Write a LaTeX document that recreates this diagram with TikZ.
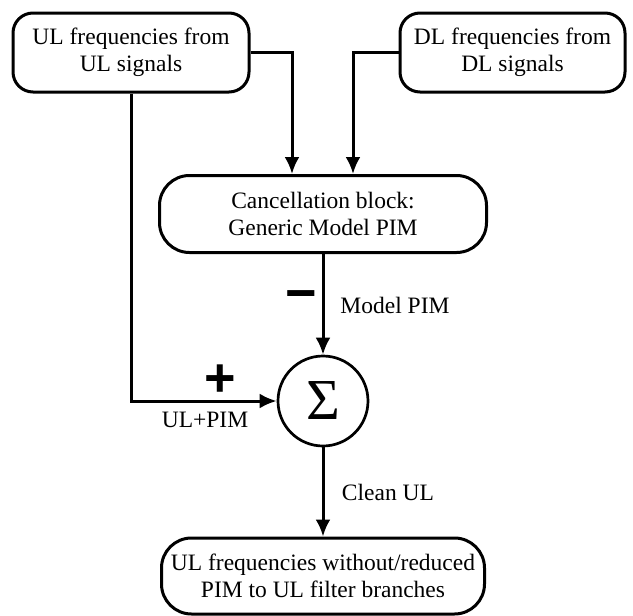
\documentclass[tikz,border=0pt]{standalone}
\usepackage{fontspec}
\setmainfont{Liberation Serif}
\setsansfont{Liberation Sans}
\usetikzlibrary{arrows.meta}
\tikzset{>={Latex[length=17pt,width=15pt]}}
\tikzset{
  block/.style={draw=black, line width=3pt, align=center, inner sep=0pt,
    font=\fontsize{23.5}{27.5}\selectfont},
  sumnode/.style={draw=black, circle, line width=2.7pt, minimum size=90pt,
    inner sep=0pt, font=\fontsize{58}{58}\selectfont},
  lbl/.style={font=\fontsize{23.5}{27.5}\selectfont},
  sgn/.style={font=\fontsize{54}{54}\sffamily\bfseries\selectfont}
}

\begin{document}
\begin{tikzpicture}[x=1pt, y=-1pt, line width=3pt]
          \useasboundingbox (0,0) rectangle (633,616);

          \node[block, rounded corners=20pt, minimum width=236pt, minimum height=79pt] (ulf) at (131,52.5) {UL frequencies from\\UL signals};
          \node[block, rounded corners=20pt, minimum width=225pt, minimum height=79pt] (dlf) at (512.5,52.5) {DL frequencies from\\DL signals};
          \node[block, rounded corners=30pt, minimum width=327pt, minimum height=77pt] (canc) at (323,214) {Cancellation block:\\Generic Model PIM};
          \node[sumnode] (sum) at (323,401) {Σ};
          \node[block, rounded corners=30pt, minimum width=323pt, minimum height=76pt] (out) at (323,576) {UL frequencies without/reduced\\PIM to UL filter branches};

          \draw[->] (ulf.east) -| ([xshift=-31pt]canc.north);
          \draw[->] (dlf.west) -| ([xshift=30pt]canc.north);
          \draw[->] (ulf.south) |- (sum.west);
          \path[draw=black,->] (canc) edge (sum);
          \path[draw=black,->] (sum) edge (out);

          \node[sgn] (minus) at (301,301) {−};
          \node[sgn] (plus) at (220,381) {+};
          \node[lbl] (modelpim) at (395,305) {Model PIM};
          \node[lbl] (ulpim) at (205,420) {UL+PIM};
          \node[lbl] (cleanul) at (388,492) {Clean UL};
        \end{tikzpicture}
\end{document}
